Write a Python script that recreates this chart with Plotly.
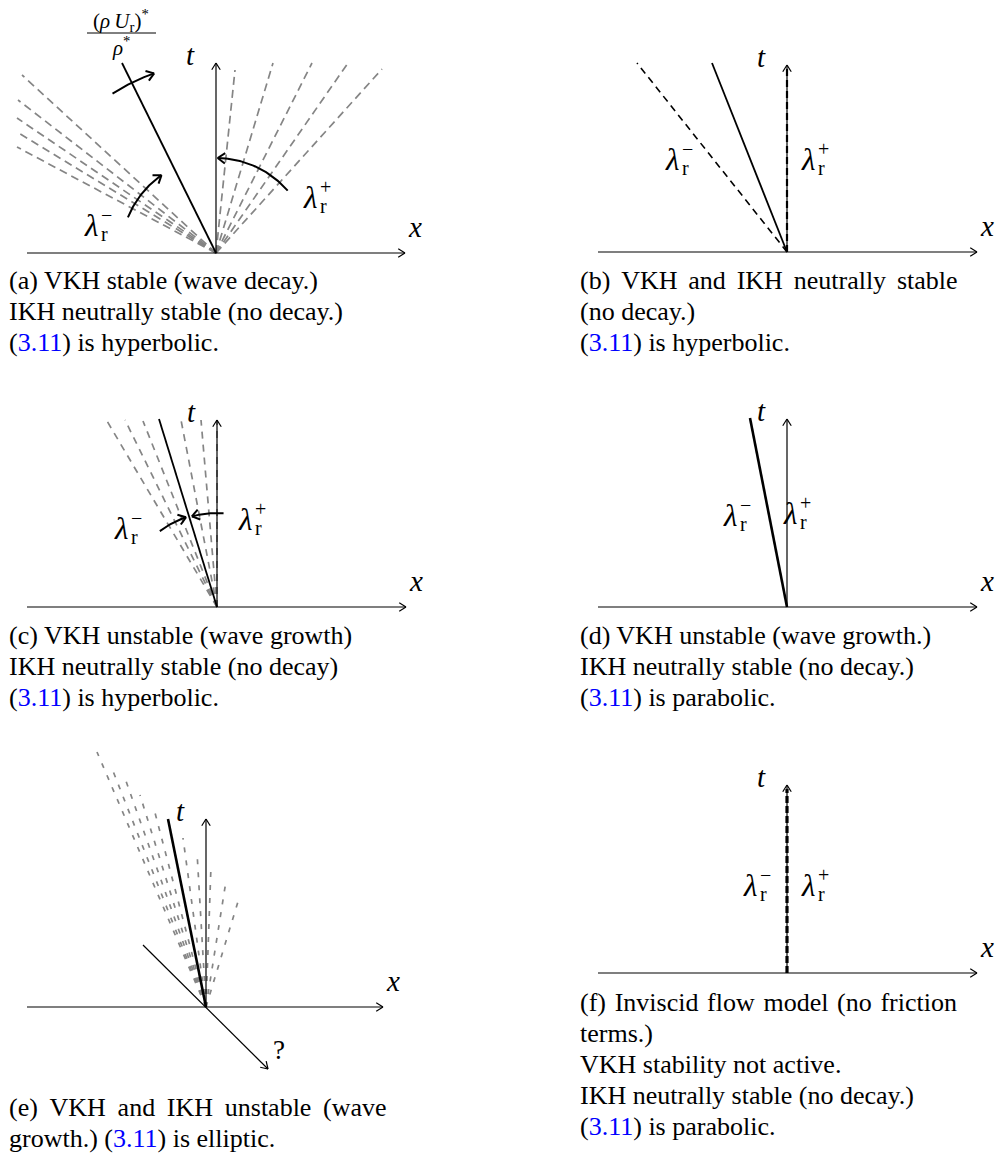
import numpy as np
import plotly.graph_objects as go

W, H = 1006, 1155
FONT = "Liberation Serif"
GRAY = "#858585"

# ---------------- data (local x,t units, origin of each panel at 0,0) -------------
PANELS = ["a", "b", "c", "d", "e", "f"]
ORIGIN_X = [216, 787, 217, 787, 206, 787]
ORIGIN_Y = [253, 252, 607, 607, 1007, 973]
X_AXIS_LEFT = [-189, -189, -190, -189, -179, -189]
X_AXIS_RIGHT = [189, 190, 189, 190, 177, 190]
T_AXIS_TOP = [190, 187, 187, 188, 188, 188]

A_SOLID = (-94, 190)
A_FAN_LEFT_DX = [-194, -198, -199, -199, -199]
A_FAN_LEFT_DT = [178, 153, 135, 121, 106]
A_FAN_RIGHT_DX = [19, 57, 96, 132, 166]
A_FAN_RIGHT_DT = [183, 190, 190, 190, 184]

B_SOLID = (-75, 189)
B_DASHED = (-150, 189)

C_SOLID = (-58, 188)
C_FAN_DX = [-110, -92, -74, -36, -16, 0]
C_FAN_DT = [186, 187, 186, 187, 187, 187]

D_SOLID = (-37, 189)

E_SOLID = (-38, 188)
E_DIAG_START = (-63, 62)
E_DIAG_END = (62, -62)
E_FAN_DX = [-109, -95, -80, -66, -52, -23, -9, 5, 20, 34]
E_FAN_DT = [255, 241, 226, 212, 198, 169, 155, 141, 126, 112]

# curved arrows: arcs around the panel origin
ARC_PANEL = ["a", "a", "a", "c", "c"]
ARC_R = [95, 95, 190, 95, 94]
ARC_FROM = [158, 41, 123, 127, 86]
ARC_TO = [125, 89, 109, 109, 105.5]

# lambda labels
LAM_SIGN = ["−", "+"] * 5
LAM_X = [91, 310, 672, 808, 121, 245, 730, 790, 750, 808]
LAM_Y = [225, 197, 159, 159, 528, 519, 515, 513, 885, 885]

REF = "(<span style='color:#0000ff'>3.11</span>)"
CAPTIONS = {
    "a": ["(a) VKH stable (wave decay.)", "IKH neutrally stable (no decay.)", REF + " is hyperbolic."],
    "b": ["(b) \u2006VKH \u2006and \u2006IKH \u2006neutrally \u2006stable", "(no decay.)", REF + " is hyperbolic."],
    "c": ["(c) VKH unstable (wave growth)", "IKH neutrally stable (no decay)", REF + " is hyperbolic."],
    "d": ["(d) VKH unstable (wave growth.)", "IKH neutrally stable (no decay.)", REF + " is parabolic."],
    "e": ["(e) \u2009VKH \u2009and \u2009IKH \u2009unstable \u2009(wave", "growth.) " + REF + " is elliptic."],
    "f": ["(f) \u200aInviscid \u200aflow \u200amodel \u200a(no \u200afriction", "terms.)",
          "VKH stability not active.", "IKH neutrally stable (no decay.)", REF + " is parabolic."],
}
CAP_X = {"a": 7, "b": 578, "c": 7, "d": 578, "e": 7, "f": 578}
CAP_Y0 = {"a": 280, "b": 280, "c": 635, "d": 635, "e": 1107, "f": 1002}
CAP_DY = 31

# ---------------- helpers ----------------
fig = go.Figure()
idx = {p: i for i, p in enumerate(PANELS)}


def loc(p, dx, dt):
    i = idx[p]
    return ORIGIN_X[i] + dx, ORIGIN_Y[i] - dt


def seg(xs, ys, color="black", width=1.2, dash=None):
    fig.add_trace(go.Scatter(x=xs, y=ys, mode="lines",
                             line=dict(color=color, width=width, dash=dash),
                             hoverinfo="skip", showlegend=False))


def head(xt, yt, ux, uy, L=8, ang=32, color="black", width=1.2):
    n = np.hypot(ux, uy)
    ux, uy = ux / n, uy / n
    xs, ys = [], []
    for s in (1, -1):
        a = np.radians(ang * s)
        rx = ux * np.cos(a) - uy * np.sin(a)
        ry = ux * np.sin(a) + uy * np.cos(a)
        xs += [xt - L * rx, xt, None]
        ys += [yt - L * ry, yt, None]
    seg(xs, ys, color, width)


def ray(p, dx, dt, **kw):
    x0, y0 = loc(p, 0, 0)
    x1, y1 = loc(p, dx, dt)
    seg([x0, x1], [y0, y1], **kw)


def text(x, y, s, size=26, anchor="center", color="black"):
    fig.add_annotation(x=x, y=y, xref="x", yref="y", text=s, showarrow=False,
                       xanchor=anchor, yanchor="middle",
                       font=dict(family=FONT, size=size, color=color))


# ---------------- fans (drawn first, under everything) ----------------
for dx, dt in zip(A_FAN_LEFT_DX + A_FAN_RIGHT_DX, A_FAN_LEFT_DT + A_FAN_RIGHT_DT):
    ray("a", dx, dt, color=GRAY, width=1.7, dash="8px,5px")
for dx, dt in zip(C_FAN_DX, C_FAN_DT):
    ray("c", dx, dt, color=GRAY, width=1.7, dash="7px,6px")
for dx, dt in zip(E_FAN_DX, E_FAN_DT):
    ray("e", dx, dt, color=GRAY, width=1.7, dash="5px,8px")

# ---------------- axes ----------------
for p in PANELS:
    i = idx[p]
    xl, yl = loc(p, X_AXIS_LEFT[i], 0)
    xr, yr = loc(p, X_AXIS_RIGHT[i], 0)
    seg([xl, xr], [yl, yr], width=1.2)
    head(xr, yr, 1, 0)
    x0, y0 = loc(p, 0, 0)
    xt, yt = loc(p, 0, T_AXIS_TOP[i])
    seg([x0, xt], [y0, yt], width=1.2)
    head(xt, yt, 0, -1)
    text(xt - 26, yt - 8, "<i>t</i>", 29)
    text(xr + 10, yr - 26, "<i>x</i>", 29)

# ---------------- characteristic lines ----------------
ray("a", *A_SOLID, width=1.8)
ray("b", *B_SOLID, width=1.8)
ray("b", *B_DASHED, width=1.6, dash="7px,5px")
ray("b", 0, T_AXIS_TOP[idx["b"]] - 4, width=2.2, dash="7px,4px")
ray("c", *C_SOLID, width=1.8)
ray("d", *D_SOLID, width=2.6)
ray("e", *E_SOLID, width=2.6)
ray("f", 0, T_AXIS_TOP[idx["f"]] - 4, width=3.2, dash="7px,3px")

xs0, ys0 = loc("e", *E_DIAG_START)
xs1, ys1 = loc("e", *E_DIAG_END)
seg([xs0, xs1], [ys0, ys1], width=1.2)
head(xs1, ys1, xs1 - xs0, ys1 - ys0)
text(xs1 + 11, ys1 - 19, "?", 27)

# ---------------- curved arrows ----------------
for p, r, a0, a1 in zip(ARC_PANEL, ARC_R, ARC_FROM, ARC_TO):
    th = np.radians(np.linspace(a0, a1, 40))
    xs = [loc(p, r * np.cos(t), r * np.sin(t))[0] for t in th]
    ys = [loc(p, r * np.cos(t), r * np.sin(t))[1] for t in th]
    seg(xs, ys, width=2.0)
    head(xs[-1], ys[-1], xs[-1] - xs[-3], ys[-1] - ys[-3], L=9, ang=35, width=2.0)

# ---------------- labels ----------------
for x, y, s in zip(LAM_X, LAM_Y, LAM_SIGN):
    text(x, y, "<i>λ</i>", 31)
    text(x + 8, y - 10, s, 20, anchor="left")
    text(x + 8, y + 9, "r", 20, anchor="left")

# fraction label of panel (a)
text(121, 20, "(<i>ρ</i>\u2009<i>U</i><sub>r</sub>)<sup>*</sup>", 21)
fig.add_shape(type="line", xref="x", yref="y", x0=87, x1=156, y0=33, y1=33,
              line=dict(color="black", width=1))
text(121, 46, "<i>ρ</i><sup>*</sup>", 21)

# captions
for p, lines in CAPTIONS.items():
    for k, s in enumerate(lines):
        text(CAP_X[p], CAP_Y0[p] + k * CAP_DY, s, 26, anchor="left")

fig.update_layout(
    width=W, height=H, margin=dict(l=0, r=0, t=0, b=0),
    paper_bgcolor="white", plot_bgcolor="white", showlegend=False,
    xaxis=dict(range=[0, W], visible=False, fixedrange=True),
    yaxis=dict(range=[H, 0], visible=False, fixedrange=True),
)
fig.write_html("out.html", config={"displayModeBar": False})
